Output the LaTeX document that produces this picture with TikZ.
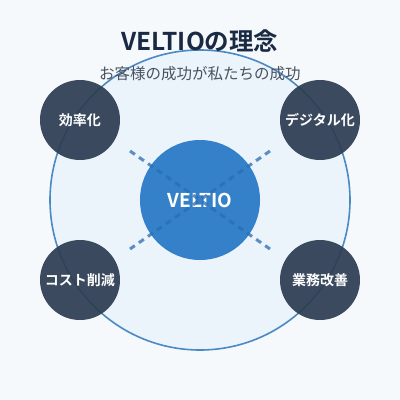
\documentclass[tikz,border=0pt]{standalone}
\usepackage{fontspec}
\setmainfont{Noto Sans CJK JP}[BoldFont={Noto Sans CJK JP Bold}]
\definecolor{pagebg}{HTML}{F6F9FC}
\definecolor{ringfill}{HTML}{EBF3FB}
\definecolor{ringline}{HTML}{4A89C4}
\definecolor{coreblue}{HTML}{3581C9}
\definecolor{dashblue}{HTML}{2B6CB0}
\definecolor{darknode}{HTML}{2D3D52}
\definecolor{titlecol}{HTML}{1B2A44}
\definecolor{subcol}{HTML}{4A5260}
\tikzset{
  outer/.style={circle, fill=darknode, fill opacity=0.93, text opacity=1, text=white, font=\bfseries\fontsize{14}{16}\selectfont, minimum size=80pt, inner sep=0pt},
  link/.style={dashblue, line width=3pt, dash pattern=on 6pt off 5pt, opacity=0.75}
}
\begin{document}
\begin{tikzpicture}[x=1pt,y=-1pt]
\fill[pagebg] (0,0) rectangle (400,400);
\useasboundingbox (0,0) rectangle (400,400);
\node[circle, fill=ringfill, draw=ringline, line width=1.6pt, minimum size=300pt, inner sep=0pt] (ring) at (200,200) {};
\node[circle, fill=coreblue, minimum size=120pt, inner sep=0pt, text=white, font=\bfseries\fontsize{19}{21}\selectfont] (core) at (200,200) {VELTIO};
\coordinate (l1) at (130,151);
\coordinate (l2) at (270,249);
\coordinate (l3) at (270,151);
\coordinate (l4) at (130,249);
\draw[link] (l1) -- (l2);
\draw[link] (l3) -- (l4);
\node[outer] (a) at (80,120) {効率化};
\node[outer] (b) at (320,120) {デジタル化};
\node[outer] (c) at (80,280) {コスト削減};
\node[outer] (d) at (320,280) {業務改善};
\node[text=titlecol, font=\bfseries\fontsize{24.5}{26}\selectfont] (title) at (200,41) {VELTIOの理念};
\node[text=subcol, font=\fontsize{15.5}{17}\selectfont] (sub) at (200,74) {お客様の成功が私たちの成功};
\end{tikzpicture}
\end{document}
